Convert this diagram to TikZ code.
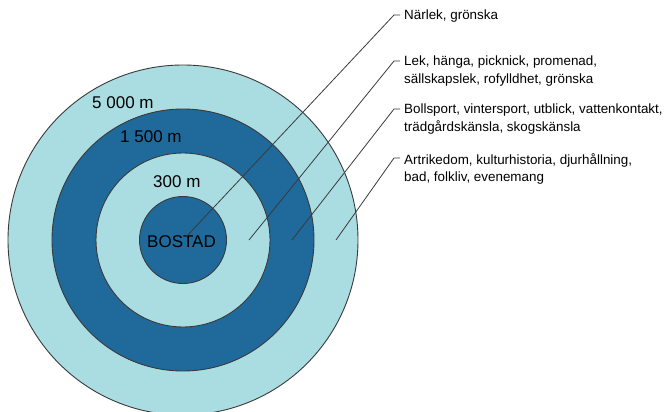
\documentclass[tikz,border=0pt]{standalone}
\usepackage{fontspec}
\setmainfont{Liberation Sans}
\definecolor{ringlight}{HTML}{AADDE1}
\definecolor{ringdark}{HTML}{1F699B}
\definecolor{edgegray}{HTML}{3A3A3A}
\begin{document}
\begin{tikzpicture}[x=1pt,y=-1pt,
  ring/.style={circle,draw=edgegray,line width=0.9pt,inner sep=0pt},
  ringlbl/.style={anchor=base west,inner sep=0pt,font=\fontsize{17}{20}\selectfont,text=black},
  sidelbl/.style={anchor=base west,inner sep=0pt,align=left,font=\fontsize{13.4}{17.8}\selectfont,text=black},
  leader/.style={draw=edgegray,line width=0.8pt}]
\useasboundingbox (0,0) rectangle (667,412);
% circles
\node[ring,fill=ringlight,minimum size=350pt] (c4) at (183,240) {};
\node[ring,fill=ringdark,minimum size=262pt] (c3) at (183,240) {};
\node[ring,fill=ringlight,minimum size=174pt] (c2) at (183,240) {};
\node[ring,fill=ringdark,minimum size=87pt] (c1) at (183,240) {};
% ring labels
\node[ringlbl] (l5000) at (92,109) {5 000 m};
\node[ringlbl] (l1500) at (120,142.5) {1 500 m};
\node[ringlbl] (l300) at (153,187) {300 m};
\node[ringlbl] (lbo) at (147,247) {BOSTAD};
% side labels (base = last line)
\node[sidelbl] (s1) at (404,20) {Närlek, grönska};
\node[sidelbl] (s2) at (404,83.8) {Lek, hänga, picknick, promenad,\\sällskapslek, rofylldhet, grönska};
\node[sidelbl] (s3) at (404,131.8) {Bollsport, vintersport, utblick, vattenkontakt,\\trädgårdskänsla, skogskänsla};
\node[sidelbl] (s4) at (404,181.8) {Artrikedom, kulturhistoria, djurhållning,\\bad, folkliv, evenemang};
% leader end points
\coordinate (p1) at (186,237);
\coordinate (p2) at (249,240);
\coordinate (p3) at (292,240);
\coordinate (p4) at (336,240);
\coordinate (b1) at (394,15);
\coordinate (b2) at (394,61);
\coordinate (b3) at (394,109);
\coordinate (b4) at (394,158);
\coordinate (h1) at (400,15);
\coordinate (h2) at (400,61);
\coordinate (h3) at (400,109);
\coordinate (h4) at (400,158);
\draw[leader] (p1) -- (b1) -- (h1);
\draw[leader] (p2) -- (b2) -- (h2);
\draw[leader] (p3) -- (b3) -- (h3);
\draw[leader] (p4) -- (b4) -- (h4);
\end{tikzpicture}
\end{document}
